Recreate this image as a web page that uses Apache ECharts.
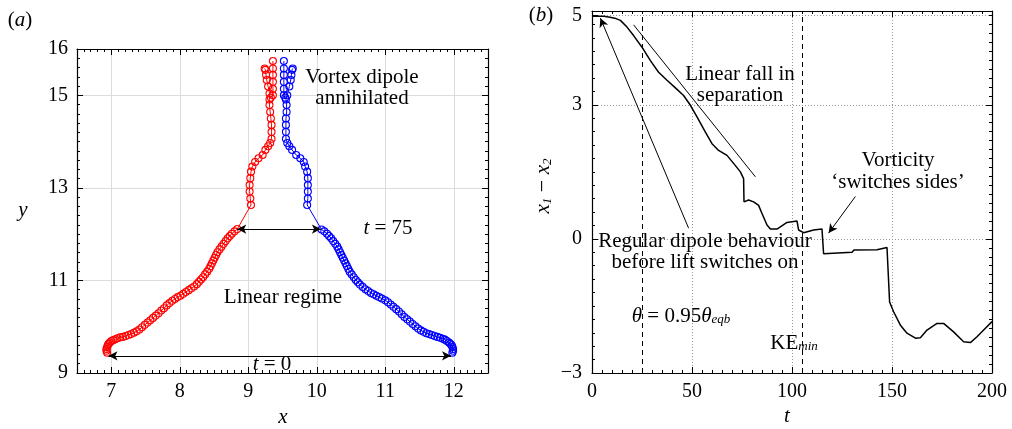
<!DOCTYPE html>
<html><head><meta charset="utf-8">
<script src="https://cdn.jsdelivr.net/npm/echarts@6/dist/echarts.min.js"></script>
<style>html,body{margin:0;padding:0;background:#fff}#c{width:1012px;height:429px}</style>
</head><body><div id="c"></div>
<script>
// ---------- Panel (a): vortex trajectories (x, y) ----------
const redLower = [[6.94,9.44],[6.93,9.48],[6.93,9.52],[6.94,9.56],[6.95,9.60],[6.96,9.63],[6.98,9.66],[7.00,9.69],[7.03,9.71],[7.06,9.73],[7.09,9.75],[7.13,9.77],[7.17,9.78],[7.21,9.80],[7.25,9.82],[7.29,9.84],[7.33,9.87],[7.37,9.90],[7.41,9.94],[7.45,9.99],[7.49,10.04],[7.53,10.09],[7.57,10.14],[7.61,10.19],[7.65,10.24],[7.69,10.29],[7.73,10.35],[7.77,10.40],[7.81,10.46],[7.85,10.51],[7.89,10.56],[7.93,10.60],[7.97,10.64],[8.01,10.67],[8.05,10.71],[8.09,10.75],[8.13,10.79],[8.17,10.83],[8.21,10.87],[8.25,10.92],[8.28,10.97],[8.31,11.02],[8.34,11.07],[8.37,11.13],[8.40,11.19],[8.43,11.25],[8.45,11.31],[8.47,11.37],[8.49,11.43],[8.51,11.49],[8.53,11.55],[8.55,11.61],[8.58,11.67],[8.61,11.73],[8.64,11.79],[8.67,11.85],[8.70,11.91],[8.73,11.96],[8.76,12.01],[8.80,12.06],[8.84,12.11]];
const redUpper = [[9.04,12.63],[9.03,12.77],[9.02,12.92],[9.02,13.06],[9.03,13.21],[9.04,13.35],[9.06,13.46],[9.10,13.56],[9.15,13.64],[9.21,13.71],[9.25,13.82],[9.29,13.90],[9.32,13.97],[9.34,14.06],[9.34,14.21],[9.34,14.36],[9.33,14.50],[9.32,14.64],[9.31,14.79],[9.31,14.91],[9.31,15.04],[9.29,15.19],[9.27,15.33],[9.26,15.44],[9.25,15.55],[9.24,15.58]];
const redStrand = [[9.33,14.95],[9.36,15.00],[9.36,15.14],[9.36,15.29],[9.36,15.44],[9.36,15.58],[9.36,15.74]];
const blueLower = [[11.98,9.44],[11.99,9.48],[11.99,9.52],[11.98,9.56],[11.97,9.60],[11.95,9.63],[11.93,9.66],[11.90,9.69],[11.87,9.72],[11.84,9.74],[11.80,9.76],[11.76,9.78],[11.72,9.80],[11.68,9.82],[11.64,9.84],[11.60,9.86],[11.56,9.89],[11.52,9.92],[11.48,9.96],[11.44,10.01],[11.40,10.06],[11.36,10.11],[11.32,10.16],[11.28,10.21],[11.24,10.27],[11.20,10.33],[11.16,10.38],[11.12,10.43],[11.08,10.48],[11.04,10.53],[11.00,10.57],[10.95,10.61],[10.91,10.64],[10.87,10.67],[10.83,10.70],[10.79,10.73],[10.75,10.77],[10.71,10.81],[10.67,10.86],[10.63,10.91],[10.60,10.96],[10.57,11.01],[10.54,11.07],[10.51,11.13],[10.48,11.19],[10.46,11.25],[10.44,11.31],[10.42,11.37],[10.40,11.43],[10.38,11.49],[10.36,11.55],[10.34,11.61],[10.32,11.67],[10.30,11.73],[10.27,11.79],[10.24,11.85],[10.21,11.91],[10.18,11.96],[10.15,12.01],[10.11,12.06],[10.07,12.10]];
const blueUpper = [[9.86,12.63],[9.87,12.77],[9.87,12.92],[9.87,13.06],[9.87,13.21],[9.86,13.35],[9.83,13.46],[9.81,13.56],[9.76,13.64],[9.70,13.71],[9.64,13.82],[9.60,13.90],[9.57,13.97],[9.55,14.06],[9.55,14.21],[9.55,14.36],[9.55,14.50],[9.56,14.64],[9.56,14.79],[9.55,14.91],[9.57,15.00],[9.60,15.19],[9.62,15.33],[9.63,15.44],[9.64,15.55],[9.65,15.58]];
const blueStrand = [[9.54,14.95],[9.52,15.00],[9.52,15.14],[9.52,15.29],[9.52,15.44],[9.52,15.58],[9.52,15.74]];
const arrowT75 = [[8.84,12.11],[10.06,12.11]];
const arrowT0 = [[6.96,9.37],[11.96,9.37]];

// ---------- Panel (b): separation x1 - x2 vs t ----------
const tValues   = [0,3,6,9,12,14.2,17.5,20.8,25,29.2,33.3,37.5,41.7,45.8,49.2,52.5,56.7,60,63.3,67.5,70.8,74.2,75.8,76,78.3,80.8,83.3,85,85.8,87.5,89.2,92.5,97.5,102.5,103.3,105.8,110.8,115,115.8,130,131,142.5,147.5,148.8,150.8,154.2,157.5,161.7,164.2,167.5,172.5,175.8,180.8,185.8,189.2,192.5,196.7,200];
const sepValues = [4.98,4.98,4.98,4.96,4.93,4.89,4.74,4.55,4.29,3.99,3.73,3.55,3.38,3.21,2.99,2.73,2.39,2.13,1.98,1.87,1.69,1.50,1.35,0.83,0.87,0.83,0.75,0.57,0.53,0.31,0.22,0.22,0.37,0.40,0.20,0.14,0.20,0.22,-0.33,-0.30,-0.25,-0.24,-0.19,-1.41,-1.63,-1.93,-2.11,-2.22,-2.21,-2.04,-1.89,-1.89,-2.08,-2.30,-2.32,-2.19,-2.00,-1.85];
const eventTimes = [25, 105];
const linearFallLine = [[20.8,4.79],[81.7,1.39]];
const regularArrow = [[48.3,0.24],[4.2,4.94]];
const vorticityArrow = [[131.7,0.95],[118.3,0.13]];

// tick label sets
const aXLabels = [7,8,9,10,11,12];
const aYLabels = [9,11,13,15,16];

const FF = '"Liberation Serif", "DejaVu Serif", serif';
const TICK = {color:'#000', width:1};

function majorAxis(grid, pos, o){
  return Object.assign({type:'value', gridIndex:grid, position:pos,
    axisLine:{show:true, onZero:false, lineStyle:{color:'#000', width:1.2}},
    axisTick:{show:true, inside:true, length:6, lineStyle:TICK},
    axisLabel:{show:false},
    splitLine:{show:false}}, o);
}
function minorAxis(grid, pos, min, max, interval){
  return {type:'value', gridIndex:grid, position:pos, min, max, interval,
    axisLine:{show:false, onZero:false}, axisTick:{show:true, inside:true, length:3, lineStyle:TICK},
    axisLabel:{show:false}, splitLine:{show:false}};
}
const labelA = {show:true, color:'#000', fontFamily:FF, fontSize:20};

const xAxis = [
  majorAxis(0,'bottom',{min:6.5,max:12.5,
    axisLabel:Object.assign({}, labelA, {margin:9, formatter:v => aXLabels.includes(v) ? String(v) : ''}),
    splitLine:{show:true, lineStyle:{color:'#dcdcdc', width:1}}}),
  majorAxis(0,'top',{min:6.5,max:12.5}),
  minorAxis(0,'bottom',6.5,12.5,0.1),
  minorAxis(0,'top',6.5,12.5,0.1),
  majorAxis(1,'bottom',{min:0,max:200,interval:50,
    axisLabel:Object.assign({}, labelA, {margin:9}),
    minorTick:{show:true, splitNumber:10, length:3, lineStyle:TICK},
    splitLine:{show:true, lineStyle:{color:'#999', width:1, type:[1,2]}}}),
  majorAxis(1,'top',{min:0,max:200,interval:50,
    minorTick:{show:true, splitNumber:10, length:3, lineStyle:TICK}})
];
const yAxis = [
  majorAxis(0,'left',{min:9,max:16,interval:2,
    axisLabel:Object.assign({}, labelA, {margin:9, formatter:v => aYLabels.includes(v) ? String(v) : ''}),
    splitLine:{show:true, lineStyle:{color:'#dcdcdc', width:1}}}),
  majorAxis(0,'right',{min:9,max:16,interval:2}),
  minorAxis(0,'left',9,16,0.2),
  minorAxis(0,'right',9,16,0.2),
  majorAxis(1,'left',{min:-3,max:5.1,interval:3,
    minorTick:{show:true, splitNumber:10, length:3, lineStyle:TICK},
    axisLabel:Object.assign({}, labelA, {margin:10, formatter:v => v > 5 ? '' : (v < 0 ? '\u2212' + Math.abs(v) : String(v))}),
    splitLine:{show:true, lineStyle:{color:'#999', width:1, type:[1,2]}}}),
  majorAxis(1,'left',{min:-3,max:5.1,interval:8, axisLine:{show:false,onZero:false},
    axisLabel:Object.assign({}, labelA, {margin:10, formatter:v => v === 5 ? '5' : ''}),
    splitLine:{show:true, lineStyle:{color:'#999', width:1, type:[1,2]}}}),
  majorAxis(1,'right',{min:-3,max:5.1,interval:3}),
  minorAxis(1,'right',-3,5.1,0.2)
];

function traj(data, color){
  return {type:'line', xAxisIndex:0, yAxisIndex:0, data, symbol:'circle', symbolSize:7,
    showSymbol:true, silent:true, animation:false,
    lineStyle:{color, width:1}, itemStyle:{color:'rgba(0,0,0,0)', borderColor:color, borderWidth:1.1}, z:3};
}
const arrowLine = (pts, sym) => [{coord:pts[0], symbol:sym[0]}, {coord:pts[1], symbol:sym[1]}];

const series = [
  Object.assign(traj(redLower.concat(redUpper), '#ff0000'), {
    markLine:{silent:true, animation:false, symbol:['none','none'], symbolSize:[7,9], label:{show:false},
      lineStyle:{color:'#000', width:1, type:'solid'},
      data:[arrowLine(arrowT75,['arrow','arrow']), arrowLine(arrowT0,['arrow','arrow'])]}}),
  traj(redStrand, '#ff0000'),
  traj(blueLower.concat(blueUpper), '#0000ff'),
  traj(blueStrand, '#0000ff'),
  {type:'line', xAxisIndex:4, yAxisIndex:4, data:tValues.map((t,i)=>[t, sepValues[i]]),
    symbol:'none', silent:true, animation:false, lineStyle:{color:'#000', width:1.5}, z:3,
    markLine:{silent:true, animation:false, symbol:['none','none'], symbolSize:[7,9], label:{show:false},
      lineStyle:{color:'#000', width:1, type:'solid'},
      data:[
        arrowLine(linearFallLine,['none','none']),
        arrowLine(regularArrow,['none','arrow']),
        arrowLine(vorticityArrow,['none','arrow'])
      ]}},
  {type:'line', xAxisIndex:4, yAxisIndex:4, data:[], silent:true, animation:false,
    markLine:{silent:true, animation:false, symbol:['none','none'], label:{show:false},
      lineStyle:{type:[5,4], color:'#000', width:1},
      data:eventTimes.map(t => ({xAxis:t}))}}
];

function txt(x, y, text, opts){
  return {type:'text', x, y, silent:true, z:10,
    style:Object.assign({text, fill:'#000', fontFamily:FF, fontSize:21,
      align:'center', verticalAlign:'middle', textAlign:'center', textVerticalAlign:'middle',
      rich:{
        i:{fontStyle:'italic', fontFamily:FF, fontSize:21},
        s:{fontStyle:'italic', fontFamily:FF, fontSize:13, verticalAlign:'bottom', lineHeight:13}
      }}, opts || {})};
}

const graphic = [
  txt(20, 20, '({i|a})'),
  txt(541, 15, '({i|b})'),
  txt(362, 88, 'Vortex dipole\nannihilated', {lineHeight:21.5}),
  txt(388, 228, '{i|t} = 75'),
  txt(283, 297, 'Linear regime'),
  txt(272, 364, '{i|t} = 0'),
  txt(283, 417, '{i|x}', {fontSize:22}),
  txt(23, 210, '{i|y}', {fontSize:22}),
  txt(740, 85, 'Linear fall in\nseparation', {lineHeight:20.5}),
  txt(898, 171, 'Vorticity\n\u2018switches sides\u2019', {lineHeight:22}),
  txt(705, 252, 'Regular dipole behaviour\nbefore lift switches on', {lineHeight:21}),
  txt(681, 316, '{i|θ} = 0.95{i|θ}{s|eqb}'),
  txt(794, 343, 'KE{s|min}'),
  txt(787, 416, '{i|t}', {fontSize:22}),
  Object.assign(txt(0, 0, '{i|x}{s|1} \u2212 {i|x}{s|2}', {fontSize:22}), {x:543, y:186, rotation:Math.PI/2})
];

const chart = echarts.init(document.getElementById('c'), null, {renderer:'canvas'});
chart.setOption({
  animation:false,
  backgroundColor:'#fff',
  grid:[
    {left:77, top:49, width:411, height:324},
    {left:592, top:11, width:400, height:362}
  ],
  xAxis, yAxis, series, graphic
});
</script>
</body></html>
